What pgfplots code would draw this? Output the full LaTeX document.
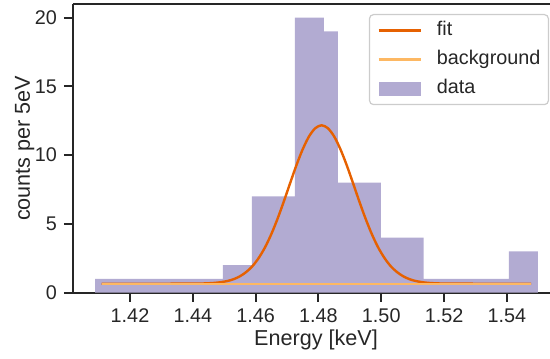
\documentclass[border=0pt]{standalone}
\usepackage{pgfplots}
\pgfplotsset{compat=1.18}
\usepackage{fontspec}
\setmainfont{Liberation Sans}
\definecolor{axc}{HTML}{262626}
\definecolor{fitc}{HTML}{E66101}
\definecolor{bgc}{HTML}{FDB863}
\definecolor{barc}{HTML}{B2ABD2}
\definecolor{legc}{HTML}{CCCCCC}
\pgfplotsset{
  linelegend/.style={legend image code/.code={\draw[##1] (0pt,2.5pt) -- (21pt,2.5pt);}},
  barlegend/.style={legend image code/.code={\fill[##1, sharp corners] (0pt,-1pt) rectangle (21pt,6pt);}},
}
\begin{document}
\begin{tikzpicture}
\begin{axis}[
  at={(0,0)}, anchor=south west,
  width=243pt, height=144.25pt, scale only axis,
  xmin=1.40185, xmax=1.5566, ymin=0, ymax=21,
  axis x line*=bottom, axis y line*=left,
  axis line style={-, line width=1pt, color=axc},
  xtick={1.42,1.44,1.46,1.48,1.50,1.52,1.54},
  ytick={0,5,10,15,20},
  tick align=outside, major tick length=4.5pt,
  tick style={line width=1pt, color=axc},
  /pgf/number format/assume math mode=true,
  xticklabel style={/pgf/number format/fixed, /pgf/number format/fixed zerofill, /pgf/number format/precision=2},
  ticklabel style={font=\fontsize{9.9}{11}\selectfont, text=axc},
  xlabel={Energy [keV]}, ylabel={counts per 5eV},
  label style={font=\fontsize{10.8}{12}\selectfont, text=axc},
  xlabel style={at={(axis description cs:0.5,-0.182)}, anchor=base},
  ylabel style={at={(axis description cs:-0.0885,0.5)}, anchor=base},
  legend style={at={(rel axis cs:1,1)}, anchor=north east, xshift=-5pt, yshift=-5pt,
    draw=legc, line width=0.6pt, rounded corners=2pt, fill=white, text=axc,
    font=\fontsize{9.9}{11}\selectfont, inner xsep=4pt, inner ysep=3.5pt, row sep=5.5pt,
    nodes={inner sep=0pt, text height=7pt, text depth=2pt, anchor=base west},
    /tikz/every odd column/.append style={column sep=7.5pt}},
  legend cell align=left,
  after end axis/.code={\draw[line width=1pt, color=axc] (rel axis cs:0,1) -- (rel axis cs:1,1);},
]
\addplot[const plot, fill=barc, draw=none, forget plot] coordinates {
  (1.40886,1) (1.44960,2) (1.45884,7) (1.47252,20) (1.48175,19) (1.48621,8)
  (1.49990,4) (1.51348,1) (1.54064,3) (1.54987,3)
} \closedcycle;
\addplot[color=fitc, line width=1.2pt, smooth, linelegend] coordinates {
  (1.411,0.64) (1.431,0.64) (1.441,0.648) (1.445,0.672) (1.448,0.723) (1.451,0.835)
  (1.453,0.97) (1.455,1.18) (1.457,1.49) (1.459,1.92) (1.461,2.52) (1.463,3.29)
  (1.465,4.25) (1.467,5.38) (1.469,6.64) (1.471,7.97) (1.473,9.27) (1.475,10.43)
  (1.477,11.36) (1.479,11.96) (1.481,12.17) (1.483,11.96) (1.485,11.36) (1.487,10.43)
  (1.489,9.27) (1.491,7.97) (1.493,6.64) (1.495,5.38) (1.497,4.25) (1.499,3.29)
  (1.501,2.52) (1.503,1.92) (1.505,1.49) (1.507,1.18) (1.509,0.97) (1.511,0.835)
  (1.514,0.723) (1.517,0.672) (1.521,0.648) (1.531,0.64) (1.5477,0.64)
};
\addlegendentry{fit}
\addplot[color=bgc, line width=1.2pt, linelegend] coordinates {
  (1.411,0.64) (1.5477,0.64)
};
\addlegendentry{background}
\addlegendimage{fill=barc, draw=none, barlegend}
\addlegendentry{data}
\end{axis}
\pgfresetboundingbox
\path[use as bounding box] (-36.5pt,-32.75pt) rectangle (238.5pt,146.25pt);
\end{tikzpicture}
\end{document}
